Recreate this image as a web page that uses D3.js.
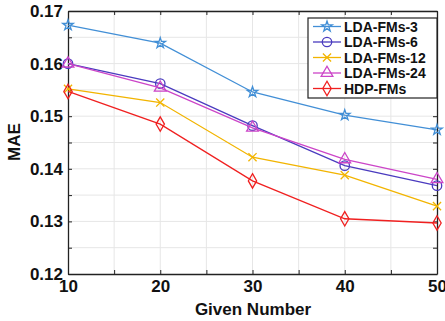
<!DOCTYPE html>
<html lang="en">
<head>
    <meta charset="UTF-8">
    <title>MAE vs Given Number</title>
    <script src="https://d3js.org/d3.v7.min.js"></script>
    <style>
        body { margin: 0; background: #fff; }
        svg { display: block; font-family: "Liberation Sans", Arial, sans-serif; }
        .tick text { font-size: 17px; font-weight: bold; fill: #111; }
        .grid line { stroke: #e6e6e6; stroke-width: 1px; }
        .axis-label { font-size: 17px; font-weight: bold; fill: #111; }
        .legend text { font-size: 14px; font-weight: bold; fill: #111; }
    </style>
</head>
<body>
    <svg width="445" height="321"></svg>

    <script>
        // data
        const givenNumbers = [10, 20, 30, 40, 50];
        const seriesNames = ["LDA-FMs-3", "LDA-FMs-6", "LDA-FMs-12", "LDA-FMs-24", "HDP-FMs"];
        const lda3  = [0.1673, 0.1639, 0.1546, 0.1502, 0.1474];
        const lda6  = [0.1600, 0.1562, 0.1482, 0.1406, 0.1368];
        const lda12 = [0.1552, 0.1526, 0.1422, 0.1388, 0.1329];
        const lda24 = [0.1600, 0.1554, 0.1478, 0.1418, 0.1380];
        const hdp   = [0.1547, 0.1485, 0.1377, 0.1305, 0.1297];
        const yTicks = [0.12, 0.13, 0.14, 0.15, 0.16, 0.17];
        const xTicks = [10, 20, 30, 40, 50];

        const colors = ["#428fd6", "#4a3bbf", "#f2b400", "#cc45c8", "#f02020"];
        const markers = ["star", "circle", "cross", "triangle", "diamond"];
        const allValues = [lda3, lda6, lda12, lda24, hdp];

        const svg = d3.select("svg");
        const margin = { left: 68, right: 8, top: 11, bottom: 47 };
        const width = 445 - margin.left - margin.right;
        const height = 321 - margin.top - margin.bottom;

        const x = d3.scaleLinear().domain([10, 50]).range([0, width]);
        const y = d3.scaleLinear().domain([0.12, 0.17]).range([height, 0]);

        const g = svg.append("g").attr("transform", `translate(${margin.left},${margin.top})`);

        // grid (every minor step)
        const grid = g.append("g").attr("class", "grid");
        grid.selectAll(".gx").data(d3.range(15, 50, 5)).enter().append("line")
            .attr("x1", d => x(d)).attr("x2", d => x(d))
            .attr("y1", 0).attr("y2", height);
        grid.selectAll(".gy").data(d3.range(0.125, 0.17, 0.005)).enter().append("line")
            .attr("y1", d => y(d)).attr("y2", d => y(d))
            .attr("x1", 0).attr("x2", width);

        // axes
        const xAxis = g.append("g")
            .attr("transform", `translate(0,${height})`)
            .call(d3.axisBottom(x).tickValues(d3.range(10, 51, 5)).tickSizeInner(-4).tickSizeOuter(0)
                .tickFormat(d => xTicks.includes(d) ? d : ""));
        xAxis.selectAll(".tick text").attr("dy", "0.62em").attr("y", 7);

        const yAxis = g.append("g")
            .call(d3.axisLeft(y).tickValues(d3.range(0.12, 0.1701, 0.005)).tickSizeInner(-4).tickSizeOuter(0)
                .tickFormat(d => yTicks.some(t => Math.abs(t - d) < 1e-9) ? d3.format(".2f")(d) : ""));
        yAxis.selectAll(".tick text").attr("x", -5);

        g.append("g").attr("transform", `translate(${width},0)`)
            .call(d3.axisRight(y).tickValues(d3.range(0.12, 0.1701, 0.005)).tickSizeInner(-4).tickSizeOuter(0).tickFormat(""));
        g.append("g")
            .call(d3.axisTop(x).tickValues(d3.range(10, 51, 5)).tickSizeInner(-4).tickSizeOuter(0).tickFormat(""));

        g.selectAll(".domain").attr("stroke", "#222").attr("stroke-width", 1.3);
        g.selectAll(".tick line").attr("stroke", "#222");

        // lines
        const line = d3.line().x((d, i) => x(givenNumbers[i])).y(d => y(d));

        function markerPath(type) {
            const s = {
                star: d3.symbol(d3.symbolStar, 34),
                circle: d3.symbol(d3.symbolCircle, 70),
                cross: d3.symbol(d3.symbolTimes, 45),
                triangle: d3.symbol(d3.symbolTriangle, 60),
                diamond: d3.symbol(d3.symbolDiamond, 60)
            };
            return s[type]();
        }

        allValues.forEach((vals, k) => {
            g.append("path").datum(vals)
                .attr("fill", "none")
                .attr("stroke", colors[k])
                .attr("stroke-width", 1.3)
                .attr("d", line);
            g.selectAll(".m" + k).data(vals).enter().append("path")
                .attr("transform", (d, i) => `translate(${x(givenNumbers[i])},${y(d)})`)
                .attr("d", markerPath(markers[k]))
                .attr("fill", "none")
                .attr("stroke", colors[k])
                .attr("stroke-width", 1.3);
        });

        // axis labels
        svg.append("text").attr("class", "axis-label")
            .attr("x", 253).attr("y", 315)
            .attr("text-anchor", "middle").text("Given Number");
        svg.append("text").attr("class", "axis-label")
            .attr("transform", `translate(20,142) rotate(-90)`)
            .attr("text-anchor", "middle").text("MAE");

        // legend
        const legend = svg.append("g").attr("class", "legend").attr("transform", "translate(308,18)");
        legend.append("rect").attr("width", 129).attr("height", 80)
            .attr("fill", "#fff").attr("stroke", "#222").attr("stroke-width", 1.2);
        seriesNames.forEach((name, k) => {
            const yy = 8.5 + k * 15.5;
            legend.append("line").attr("x1", 5).attr("x2", 33).attr("y1", yy).attr("y2", yy)
                .attr("stroke", colors[k]).attr("stroke-width", 1.3);
            legend.append("path").attr("transform", `translate(19,${yy})`)
                .attr("d", markerPath(markers[k]))
                .attr("fill", "none").attr("stroke", colors[k]).attr("stroke-width", 1.3);
            legend.append("text").attr("x", 36).attr("y", yy + 5).text(name);
        });
    </script>
</body>
</html>
